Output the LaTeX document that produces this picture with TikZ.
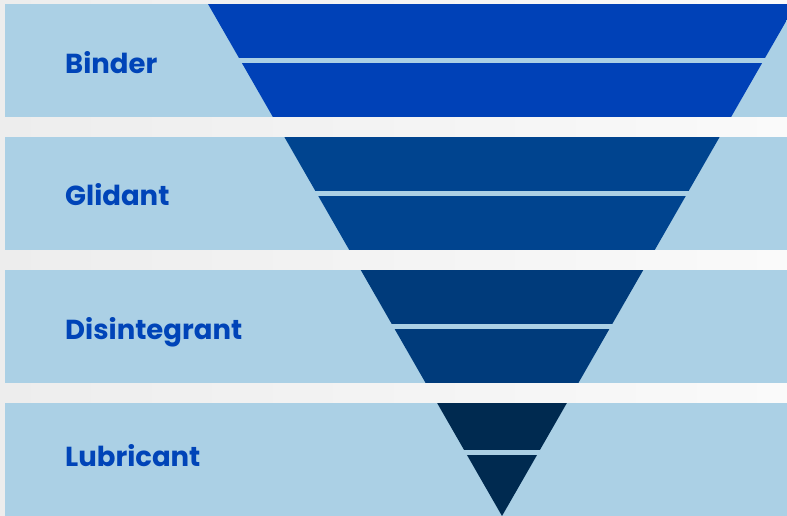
\documentclass[tikz,border=0pt]{standalone}
\usepackage{fontspec}
\setmainfont{Poppins}
\definecolor{bandblue}{HTML}{ABD0E5}
\definecolor{txtblue}{HTML}{0044B8}
\definecolor{fa}{HTML}{0041B7}
\definecolor{fb}{HTML}{00448F}
\definecolor{fc}{HTML}{003B7B}
\definecolor{fd}{HTML}{002A50}
\definecolor{bgl}{HTML}{EDEDED}
\definecolor{bgr}{HTML}{FAFAFA}
\tikzset{
  band/.style={fill=bandblue, draw=none},
  label/.style={anchor=base west, inner sep=0pt, text=txtblue, font=\fontsize{27.6}{30}\selectfont\bfseries},
}
\begin{document}
\begin{tikzpicture}[x=1bp, y=-1bp]
\useasboundingbox (0,0) rectangle (787,516);
\shade[left color=bgl, right color=bgr] (0,0) rectangle (787,516);
% bands
\fill[band] (5,4) rectangle (787,117);
\fill[band] (5,137) rectangle (787,250);
\fill[band] (5,270) rectangle (787,383);
\fill[band] (5,403) rectangle (787,516);
% funnel
\begin{scope}
\clip (208,4) -- (796,4) -- (502,516) -- cycle;
\fill[fa] (0,4) rectangle (787,58);
\fill[fa] (0,63) rectangle (787,117);
\fill[fb] (0,137) rectangle (787,191);
\fill[fb] (0,196) rectangle (787,250);
\fill[fc] (0,270) rectangle (787,323.5);
\fill[fc] (0,328.5) rectangle (787,383);
\fill[fd] (0,403) rectangle (787,450);
\fill[fd] (0,455) rectangle (787,516);
\end{scope}
% labels
\node[label] (binder) at (65,74) {Binder};
\node[label] (glidant) at (65,206) {Glidant};
\node[label] (disint) at (65,339) {Disintegrant};
\node[label] (lubric) at (65,466) {Lubricant};
\end{tikzpicture}
\end{document}
